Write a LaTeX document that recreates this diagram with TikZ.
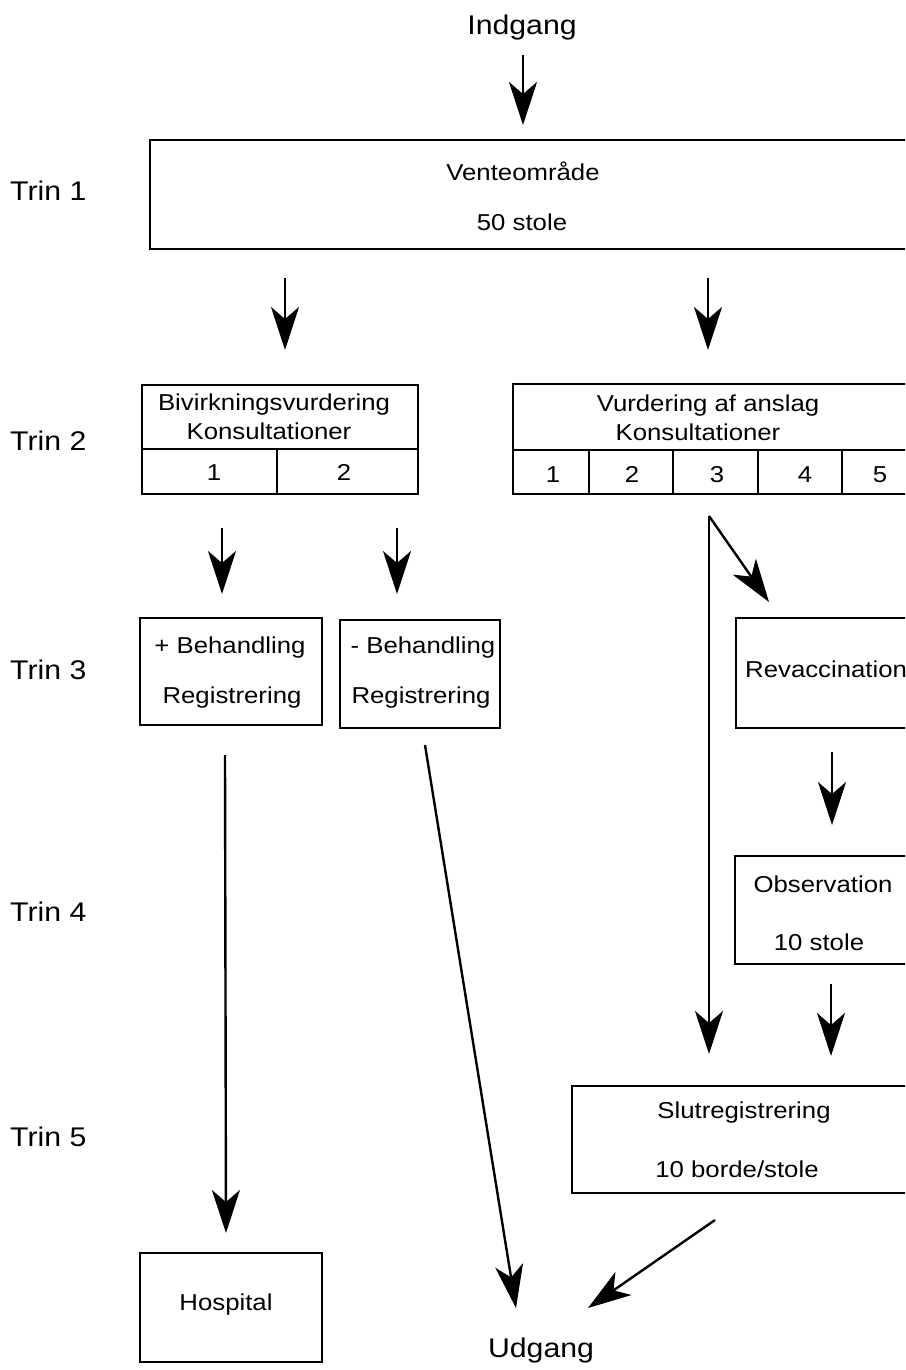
\documentclass[tikz,border=0pt]{standalone}
\usepackage{fontspec}
\setmainfont[FakeStretch=1.12]{Liberation Sans}
\usetikzlibrary{arrows.meta}
\begin{document}
\begin{tikzpicture}[x=1pt,y=-1pt,
  box/.style={draw, line width=2.6pt, inner sep=0pt, outer sep=0pt},
  txt/.style={inner sep=0pt, anchor=base, font=\fontsize{23}{27}\selectfont},
  big/.style={inner sep=0pt, anchor=base, font=\fontsize{27}{32}\selectfont},
  arr/.style={line width=2.4pt, -{Stealth[length=43pt,width=28pt,inset=12pt]}},
  sep/.style={line width=2.2pt}
]
\useasboundingbox (0,0) rectangle (905,1370);
\fill[white] (0,0) rectangle (905,1370);
\clip (0,0) rectangle (905,1370);

% step labels
\node[big, anchor=base west] (t1) at (10,200) {Trin 1};
\node[big, anchor=base west] (t2) at (10,450) {Trin 2};
\node[big, anchor=base west] (t3) at (10,679) {Trin 3};
\node[big, anchor=base west] (t4) at (10,921) {Trin 4};
\node[big, anchor=base west] (t5) at (10,1146) {Trin 5};

% entry / exit
\node[big] (ind) at (522,35) {Indgang};
\node[big] (udg) at (541,1357) {Udgang};

% boxes
\node[box, minimum width=765pt, minimum height=109pt] (vent) at (532.5,194.5) {};
\node[txt] (ventA) at (523,180) {Venteområde};
\node[txt] (ventB) at (522,230) {50 stole};

\node[box, minimum width=276pt, minimum height=109pt] (biv) at (280,439.5) {};
\draw[sep] (biv.west |- 0,449) -- (biv.east |- 0,449);
\draw[sep] (277,449) -- (biv.south -| 277,0);
\node[txt] (bivA) at (274,410) {Bivirkningsvurdering};
\node[txt] (bivB) at (269,439) {Konsultationer};
\node[txt] (biv1) at (214,480) {1};
\node[txt] (biv2) at (344,480) {2};

\node[box, minimum width=402pt, minimum height=110pt] (vur) at (714,439) {};
\draw[sep] (vur.west |- 0,450) -- (vur.east |- 0,450);
\foreach \xx in {589,673,758,842} \draw[sep] (\xx,450) -- (vur.south -| \xx,0);
\node[txt] (vurA) at (708,411) {Vurdering af anslag};
\node[txt] (vurB) at (698,440) {Konsultationer};
\node[txt] (vur1) at (553,482) {1};
\node[txt] (vur2) at (632,482) {2};
\node[txt] (vur3) at (717,482) {3};
\node[txt] (vur4) at (805,482) {4};
\node[txt] (vur5) at (880,482) {5};

\node[box, minimum width=182pt, minimum height=107pt] (plus) at (231,671.5) {};
\node[txt] (plusA) at (230,653) {+ Behandling};
\node[txt] (plusB) at (232,703) {Registrering};

\node[box, minimum width=160pt, minimum height=108pt] (minus) at (420,674) {};
\node[txt] (minusA) at (423,653) {- Behandling};
\node[txt] (minusB) at (421,703) {Registrering};

\node[box, minimum width=179pt, minimum height=110pt] (rev) at (825.5,673) {};
\node[txt, anchor=base west] (revA) at (745,677) {Revaccination};

\node[box, minimum width=180pt, minimum height=108pt] (obs) at (825,910) {};
\node[txt] (obsA) at (823,892) {Observation};
\node[txt] (obsB) at (819,950) {10 stole};

\node[box, minimum width=343pt, minimum height=107pt] (slut) at (743.5,1139.5) {};
\node[txt] (slutA) at (744,1118) {Slutregistrering};
\node[txt] (slutB) at (737,1177) {10 borde/stole};

\node[box, minimum width=182pt, minimum height=109pt] (hosp) at (231,1307.5) {};
\node[txt] (hospA) at (226,1310) {Hospital};

% connector end points
\coordinate (c0s) at (523,55);   \coordinate (c0e) at (523,125);
\coordinate (c1s) at (285,278);  \coordinate (c1e) at (285,350);
\coordinate (c2s) at (708,278);  \coordinate (c2e) at (708,350);
\coordinate (c3s) at (222,528);  \coordinate (c3e) at (222,594);
\coordinate (c4s) at (397,528);  \coordinate (c4e) at (397,594);
\coordinate (c5s) at (709,516);  \coordinate (c5e) at (709,1054);
\coordinate (c6e) at (769,602);
\coordinate (c7s) at (832,752);  \coordinate (c7e) at (832,825);
\coordinate (c8s) at (831,984);  \coordinate (c8e) at (831,1056);
\coordinate (c9s) at (225,755);  \coordinate (c9e) at (226,1233);
\coordinate (c10s) at (425,745); \coordinate (c10e) at (516,1308);
\coordinate (c11s) at (715,1220);\coordinate (c11e) at (588,1308);

\draw[arr] (c0s) -- (c0e);
\draw[arr] (c1s) -- (c1e);
\draw[arr] (c2s) -- (c2e);
\draw[arr] (c3s) -- (c3e);
\draw[arr] (c4s) -- (c4e);
\draw[arr] (c5s) -- (c5e);
\draw[arr] (c5s) -- (c6e);
\draw[arr] (c7s) -- (c7e);
\draw[arr] (c8s) -- (c8e);
\draw[arr] (c9s) -- (c9e);
\draw[arr] (c10s) -- (c10e);
\draw[arr] (c11s) -- (c11e);
\end{tikzpicture}
\end{document}
